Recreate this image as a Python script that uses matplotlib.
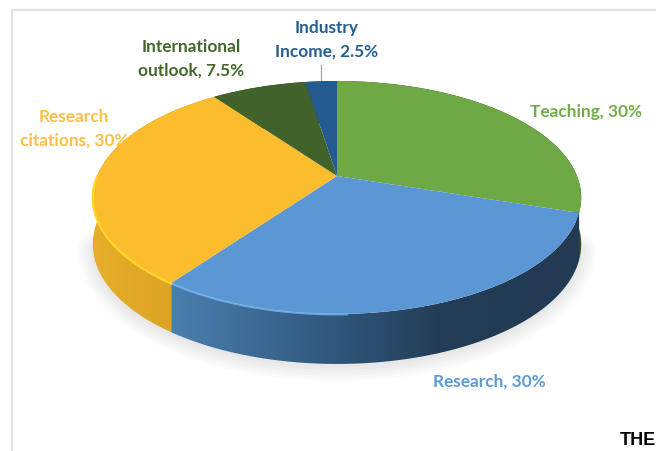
import numpy as np
import matplotlib
matplotlib.use("Agg")
import matplotlib.pyplot as plt
from matplotlib.colors import to_rgb
from matplotlib.patches import Polygon
from matplotlib.transforms import Transform

# Chart data
categories = ["Teaching", "Research", "Research\ncitations", "International\noutlook", "Industry\nIncome"]
shares = [30, 30, 30, 7.5, 2.5]
top_colors = ["#6fa946", "#5a97d4", "#fbbc2d", "#41622a", "#235a8f"]
label_colors = ["#70ad47", "#5b9bd5", "#fdbf45", "#43682b", "#255e91"]

# Pie geometry, in pixels of the reference
APEX_X, APEX_Y = 337, 177
RADIUS_X, RADIUS_Y = 240, 112.5
TILT = 0.1845


class TiltTransform(Transform):
    """Projects the flat unit pie onto the tilted disc seen in perspective."""
    input_dims = 2
    output_dims = 2

    def transform_non_affine(self, values):
        values = np.asarray(values, dtype=float)
        denom = 1 + TILT * values[:, 1]
        return np.column_stack([APEX_X + RADIUS_X * values[:, 0] / denom,
                                APEX_Y - RADIUS_Y * values[:, 1] / denom])


def rim_points(theta1, theta2, tilt):
    t = np.radians(np.linspace(theta1, theta2, 120))
    unit = np.column_stack([np.cos(t), np.sin(t)])
    return tilt.transform(unit), unit[:, 1]


def wall_image(ax, stops, clip_patch):
    """Horizontal colour gradient, clipped to one slice of the side wall."""
    xs = np.arange(0, 657)
    stop_x = [s[0] for s in stops]
    stop_rgb = np.array([to_rgb(s[1]) for s in stops])
    row = np.column_stack([np.interp(xs, stop_x, stop_rgb[:, i]) for i in range(3)])
    img = ax.imshow(row[np.newaxis, :, :], extent=(0, 656, 452, 0), aspect="auto",
                    interpolation="bilinear", zorder=2)
    img.set_clip_path(clip_patch)


wall_stops = [
    [(0, "#2f4a1f"), (656, "#2f4a1f")],
    [(174, "#4a7eae"), (336, "#30577c"), (440, "#233d57"), (582, "#223a52")],
    [(91, "#e6ae2a"), (175, "#dca423")],
    [(0, "#2f4a1f"), (656, "#2f4a1f")],
    [(0, "#1c4468"), (656, "#1c4468")],
]

fig = plt.figure(figsize=(6.56, 4.52), dpi=100)
ax = fig.add_axes([0, 0, 1, 1])
tilt = TiltTransform()

wedges, _ = ax.pie(shares, startangle=90, counterclock=False, colors=top_colors,
                   wedgeprops={"linewidth": 0, "zorder": 3})

ax.set_aspect("auto")
ax.set_xlim(0, 656)
ax.set_ylim(452, 0)
ax.axis("off")

for wedge in wedges:
    wedge.set_transform(tilt + ax.transData)

# Soft shadow under the disc
front, y_unit = rim_points(-168, -12, tilt)
depth = 46 - 4 * y_unit
for lw in range(2, 24, 4):
    ax.plot(front[:, 0], front[:, 1] + depth + 2, color="black", alpha=0.014,
            lw=lw, solid_capstyle="round", zorder=1)

# Side walls
for wedge, stops in zip(wedges, wall_stops):
    rim, y_unit = rim_points(wedge.theta1, wedge.theta2, tilt)
    depth = 46 - 4 * y_unit
    lower = np.column_stack([rim[:, 0], rim[:, 1] + depth])
    wall = Polygon(np.vstack([rim, lower[::-1]]), closed=True, transform=ax.transData,
                   facecolor="none", edgecolor="none")
    ax.add_patch(wall)
    wall_image(ax, stops, wall)

ax.set_xlim(0, 656)
ax.set_ylim(452, 0)

# Bright bevel along the front rim
research, citations = wedges[1], wedges[2]
rim, _ = rim_points(research.theta1, research.theta1 + 38, tilt)
ax.plot(rim[:, 0], rim[:, 1] + 0.5, color="#79b8f0", lw=1.4, alpha=0.8, zorder=4)
rim, _ = rim_points(citations.theta2 - 54, citations.theta2, tilt)
ax.plot(rim[:, 0], rim[:, 1] + 0.5, color="#ffd62a", lw=1.6, zorder=4)

# Data labels
label_pos = [(586, 112), (489, 382), (74, 129), (191, 59), (327, 40)]
for name, share, color, (x, y) in zip(categories, shares, label_colors, label_pos):
    ax.text(x, y, f"{name}, {share:g}%", color=color, ha="center", va="center",
            family="Lato", weight="bold", fontsize=12.4, linespacing=1.6, zorder=1.5)

# Leader line of the smallest slice
ax.plot([321, 321], [66, 83], color="#a6a6a6", lw=0.9, zorder=1)

# Frame of the cropped screenshot
ax.plot([12, 12, 656], [452, 10.5, 10.5], color="#e2e2e2", lw=1.6, zorder=0)

ax.text(620, 441, "THE", color="black", family="Liberation Sans", weight="bold",
        fontsize=13, ha="left", va="center", clip_on=True)

fig.savefig("out.png", dpi=100)
plt.close(fig)
